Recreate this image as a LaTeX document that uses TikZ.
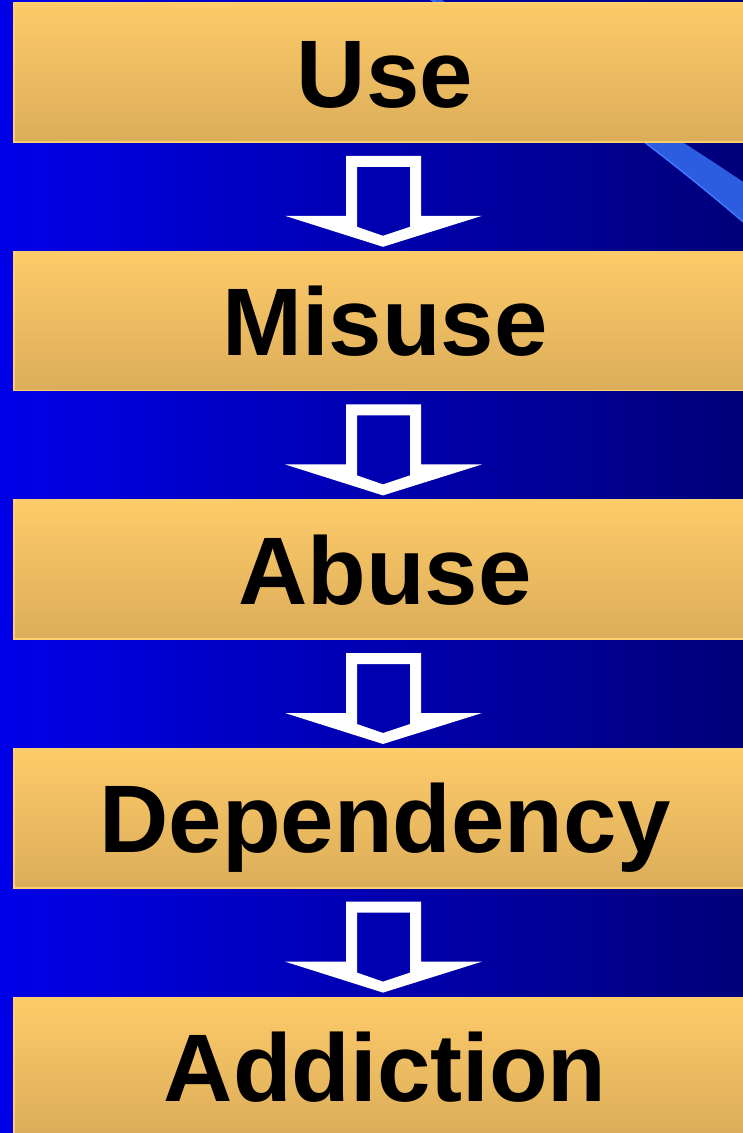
\documentclass[tikz,border=0pt]{standalone}
\usepackage{fontspec}
\setmainfont{Liberation Sans}
\usepackage{xcolor}
\definecolor{StageTop}{HTML}{FECB69}
\definecolor{StageBottom}{HTML}{DBAD5A}
\definecolor{StageEdge}{HTML}{FFCF6E}
\definecolor{DeckLeft}{HTML}{0000E8}
\definecolor{DeckRight}{HTML}{00007A}
\definecolor{DeckStreak}{HTML}{2C5CDF}
\definecolor{DeckGlint}{HTML}{3F78FF}
\usepackage{tikz}
\usetikzlibrary{positioning,calc}
\tikzset{
  stagebox/.style={draw=StageEdge,line width=1.6pt,top color=StageTop,bottom color=StageBottom,minimum width=742pt,minimum height=139pt,inner sep=0pt,text height=69pt,text depth=0pt,font=\bfseries\fontsize{96}{100}\selectfont},
  downarrow/.pic={
    \fill[white,even odd rule] (-39,-41) -- (36,-41) -- (36,19) -- (97,19) -- (-2,50) -- (-100,19) -- (-39,19) -- cycle
      (-28,-30) -- (25,-30) -- (25,30) -- (-2,39) -- (-28,30) -- cycle;
  }
}

\begin{document}
\begin{tikzpicture}[x=1pt,y=-1pt,node distance=108pt]
  \useasboundingbox (0,0) rectangle (743,1133);
  \clip (0,0) rectangle (743,1133);
  \fill[left color=DeckLeft,right color=DeckRight] (0,0) rectangle (743,1133);
  \fill[DeckStreak] (428,-2) .. controls (540,62) and (650,140) .. (770,245) -- (770,200) .. controls (660,125) and (545,55) .. (438,-2) -- cycle;
  \draw[DeckGlint,line width=1.5pt] (428,-2) .. controls (540,62) and (650,140) .. (770,245);
  \node[stagebox] (use) at (385,72.5) {Use};
  \node[stagebox,below=of use] (misuse) {Misuse};
  \node[stagebox,below=of misuse] (abuse) {Abuse};
  \node[stagebox,below=of abuse] (dependency) {Dependency};
  \node[stagebox,below=of dependency] (addiction) {Addiction};
  \foreach \a/\b in {use/misuse,misuse/abuse,abuse/dependency,dependency/addiction}
    \pic at ($(\a.south)!0.5!(\b.north)$) {downarrow};
\end{tikzpicture}
\end{document}
